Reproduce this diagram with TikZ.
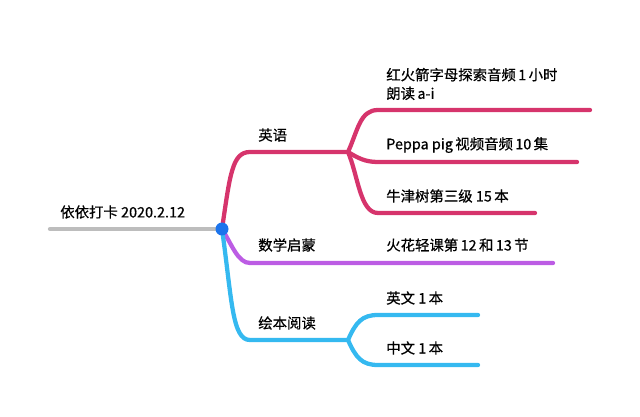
\documentclass[tikz,border=0pt]{standalone}
\usepackage{fontspec}
\setmainfont[FakeBold=0.6]{Noto Sans CJK SC}
\definecolor{cpink}{HTML}{D6346C}
\definecolor{cpurple}{HTML}{BC5CE4}
\definecolor{ccyan}{HTML}{35B9F0}
\definecolor{cgrey}{HTML}{BDBDBD}
\definecolor{cblue}{HTML}{1C74EC}
\begin{document}
\begin{tikzpicture}[x=0.75pt,y=-0.75pt,
  lbl/.style={anchor=west,inner sep=0pt,font=\fontsize{10.8}{14}\selectfont,align=left},
  br/.style={line width=3.2pt,line cap=round}]
\useasboundingbox (0,0) rectangle (640,417);
\coordinate (hub) at (222,229);
\coordinate (rs) at (50,229);
\coordinate (e1) at (250,152); \coordinate (e2) at (348,152);
\coordinate (m1) at (250,263); \coordinate (m2) at (553,263);
\coordinate (p1) at (250,340); \coordinate (p2) at (348,340);
\coordinate (a1) at (378,110); \coordinate (a2) at (590,110);
\coordinate (b1) at (378,162); \coordinate (b2) at (577,162);
\coordinate (c1) at (378,213); \coordinate (c2) at (535,213);
\coordinate (d1) at (378,315); \coordinate (d2) at (478,315);
\coordinate (f1) at (378,365); \coordinate (f2) at (478,365);
\draw[br,cgrey] (rs) -- (hub);
\draw[br,cpink] (hub) .. controls (230,175) and (232,152) .. (e1) -- (e2);
\draw[br,cpink] (e2) .. controls (358,130) and (360,110) .. (a1) -- (a2);
\draw[br,cpink] (e2) .. controls (358,158) and (365,162) .. (b1) -- (b2);
\draw[br,cpink] (e2) .. controls (358,175) and (360,213) .. (c1) -- (c2);
\draw[br,cpurple] (hub) .. controls (232,245) and (238,263) .. (m1) -- (m2);
\draw[br,ccyan] (hub) .. controls (232,300) and (232,340) .. (p1) -- (p2);
\draw[br,ccyan] (p2) .. controls (356,322) and (362,315) .. (d1) -- (d2);
\draw[br,ccyan] (p2) .. controls (356,358) and (362,365) .. (f1) -- (f2);
\fill[cblue] (hub) circle (6.5);
\node[lbl] (root) at (60,212) {依依打卡 2020.2.12};
\node[lbl] (en) at (258,135) {英语};
\node[lbl] (ma) at (258,245) {数学启蒙};
\node[lbl] (pb) at (258,323) {绘本阅读};
\node[lbl] (ta) at (386,84) {红火箭字母探索音频\,1\,小时\\朗读\,a-i};
\node[lbl] (tb) at (386,145) {Peppa pig\,视频音频\,10\,集};
\node[lbl] (tc) at (386,196) {牛津树第三级 15\,本};
\node[lbl] (tm) at (386,245) {火花轻课第\,12\,和\,13\,节};
\node[lbl] (td) at (386,298) {英文 1\,本};
\node[lbl] (tf) at (386,348) {中文 1\,本};
\end{tikzpicture}
\end{document}
